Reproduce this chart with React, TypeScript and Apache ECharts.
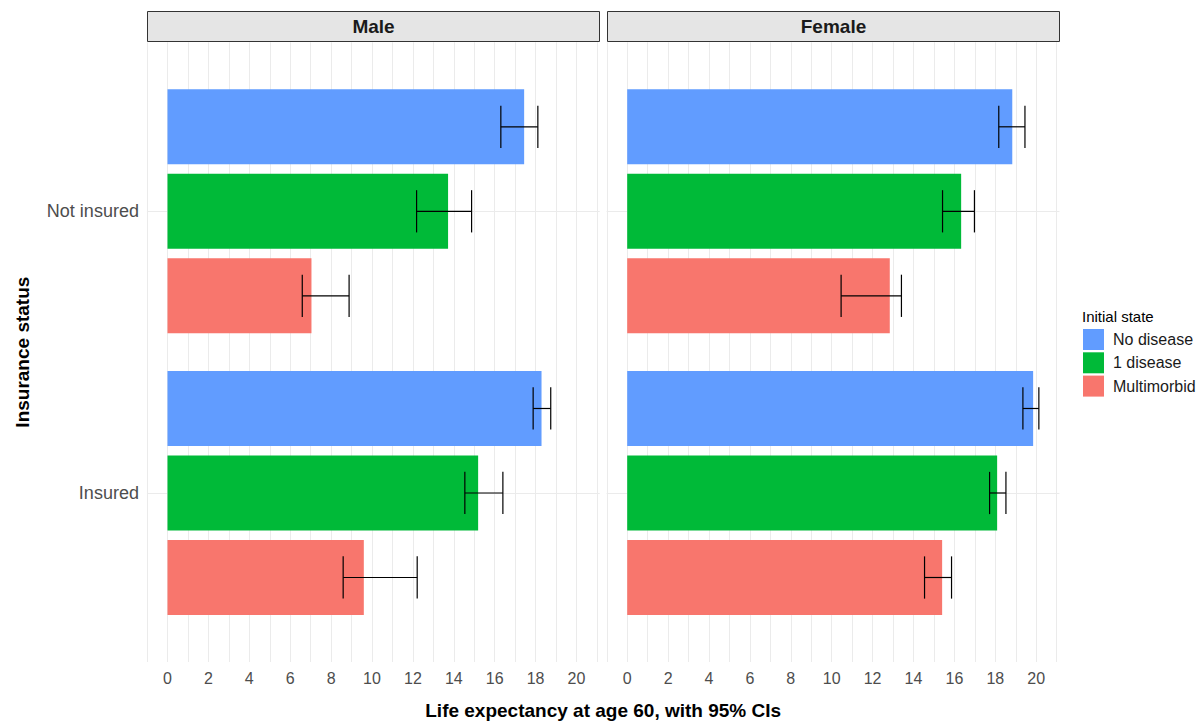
import React, { useEffect, useRef } from 'react';
import * as echarts from 'echarts';

// ---------- data ----------
const categories = ['Not insured', 'Insured'];
const states = ['No disease', '1 disease', 'Multimorbid'];
const stateColors = ['#619CFF', '#00BA38', '#F8766D'];
const facets = ['Male', 'Female'];

// Male: [Not insured, Insured]
const maleNoDisease = [17.44, 18.29];
const maleNoDiseaseLo = [16.3, 17.88];
const maleNoDiseaseHi = [18.11, 18.74];
const maleOneDisease = [13.72, 15.19];
const maleOneDiseaseLo = [12.18, 14.54];
const maleOneDiseaseHi = [14.87, 16.4];
const maleMulti = [7.04, 9.6];
const maleMultiLo = [6.59, 8.59];
const maleMultiHi = [8.88, 12.21];

// Female: [Not insured, Insured]
const femaleNoDisease = [18.83, 19.85];
const femaleNoDiseaseLo = [18.17, 19.35];
const femaleNoDiseaseHi = [19.45, 20.13];
const femaleOneDisease = [16.33, 18.09];
const femaleOneDiseaseLo = [15.42, 17.72];
const femaleOneDiseaseHi = [16.98, 18.52];
const femaleMulti = [12.84, 15.4];
const femaleMultiLo = [10.46, 14.54];
const femaleMultiHi = [13.41, 15.86];

const xTickLabels = [0, 2, 4, 6, 8, 10, 12, 14, 16, 18, 20];
const xGridValues = [-1, 0, 1, 2, 3, 4, 5, 6, 7, 8, 9, 10, 11, 12, 13, 14, 15, 16, 17, 18, 19, 20, 21];

const estimates = [
  [maleNoDisease, maleOneDisease, maleMulti],
  [femaleNoDisease, femaleOneDisease, femaleMulti],
];
const lowers = [
  [maleNoDiseaseLo, maleOneDiseaseLo, maleMultiLo],
  [femaleNoDiseaseLo, femaleOneDiseaseLo, femaleMultiLo],
];
const uppers = [
  [maleNoDiseaseHi, maleOneDiseaseHi, maleMultiHi],
  [femaleNoDiseaseHi, femaleOneDiseaseHi, femaleMultiHi],
];

// ---------- layout ----------
const FONT = '"Liberation Sans", Arial, sans-serif';
const PPU = 20.45; // px per unit on x
const ZERO_PX = [167.5, 627.2];
const PANEL_TOP = 42.3;
const PANEL_BOTTOM = 662;
const BAR_H = 0.8 / 3;
const DODGE = 0.3;
const CAP = 0.15;

const allHi = ([] as number[]).concat(...uppers.map((f) => ([] as number[]).concat(...f)));
const dataMax = Math.max(...allHi);
const X_MIN = -0.05 * dataMax;
const X_MAX = dataMax * 1.05;

function barRender(offset: number) {
  return (params: any, api: any) => {
    const v = api.value(0);
    const c = api.value(1) + offset;
    const a = api.coord([0, c - BAR_H / 2]);
    const b = api.coord([v, c + BAR_H / 2]);
    return {
      type: 'rect',
      shape: {
        x: Math.min(a[0], b[0]),
        y: Math.min(a[1], b[1]),
        width: Math.abs(b[0] - a[0]),
        height: Math.abs(b[1] - a[1]),
      },
      style: { fill: api.visual('color') },
    };
  };
}

function errRender(offset: number) {
  return (params: any, api: any) => {
    const lo = api.value(0);
    const hi = api.value(1);
    const c = api.value(2) + offset;
    const pl = api.coord([lo, c]);
    const ph = api.coord([hi, c]);
    const t = api.coord([lo, c - CAP / 2]);
    const b = api.coord([lo, c + CAP / 2]);
    const hh = Math.abs(b[1] - t[1]) / 2;
    const st = { stroke: '#000000', lineWidth: 1.2 };
    return {
      type: 'group',
      children: [
        { type: 'line', shape: { x1: pl[0], y1: pl[1], x2: ph[0], y2: ph[1] }, style: st },
        { type: 'line', shape: { x1: pl[0], y1: pl[1] - hh, x2: pl[0], y2: pl[1] + hh }, style: st },
        { type: 'line', shape: { x1: ph[0], y1: ph[1] - hh, x2: ph[0], y2: ph[1] + hh }, style: st },
      ],
    };
  };
}

export default function App() {
  const ref = useRef<HTMLDivElement>(null);

  useEffect(() => {
    if (!ref.current) return;
    const chart = echarts.init(ref.current, undefined, { renderer: 'svg' });

    const panelWidth = (X_MAX - X_MIN) * PPU;
    const panelLefts = ZERO_PX.map((z) => z + X_MIN * PPU);
    const catPos = categories.map((_, i) => i + 1);

    const grids = facets.map((_, f) => ({
      left: panelLefts[f],
      top: PANEL_TOP,
      width: panelWidth,
      height: PANEL_BOTTOM - PANEL_TOP,
      containLabel: false,
    }));

    const xAxes = facets.map((_, f) => ({
      type: 'value',
      gridIndex: f,
      min: X_MIN,
      max: X_MAX,
      axisLine: { show: false },
      axisTick: { show: false, customValues: xGridValues },
      axisLabel: {
        customValues: xTickLabels,
        fontSize: 16,
        color: '#4D4D4D',
        fontFamily: FONT,
        margin: 8,
      },
      splitLine: { show: true, lineStyle: { color: '#EBEBEB', width: 1 } },
    }));

    const yAxes = facets.map((_, f) => ({
      type: 'value',
      gridIndex: f,
      min: 0.4,
      max: 2.6,
      inverse: true,
      axisLine: { show: false },
      axisTick: { show: false, customValues: catPos },
      axisLabel: {
        show: f === 0,
        customValues: catPos,
        formatter: (v: number) => categories[Math.round(v) - 1] ?? '',
        fontSize: 18,
        color: '#4D4D4D',
        fontFamily: FONT,
        margin: 8,
      },
      splitLine: { show: true, lineStyle: { color: '#EBEBEB', width: 1 } },
    }));

    const series: any[] = [];
    facets.forEach((_, f) => {
      states.forEach((name, s) => {
        const offset = (s - 1) * DODGE;
        series.push({
          type: 'custom',
          name,
          xAxisIndex: f,
          yAxisIndex: f,
          itemStyle: { color: stateColors[s] },
          renderItem: barRender(offset),
          encode: { x: 0, y: 1 },
          data: categories.map((_, c) => [estimates[f][s][c], catPos[c]]),
          silent: true,
          z: 2,
        });
      });
      states.forEach((name, s) => {
        const offset = (s - 1) * DODGE;
        series.push({
          type: 'custom',
          name: name + ' CI',
          xAxisIndex: f,
          yAxisIndex: f,
          itemStyle: { color: '#000' },
          renderItem: errRender(offset),
          encode: { x: [0, 1], y: 2 },
          data: categories.map((_, c) => [lowers[f][s][c], uppers[f][s][c], catPos[c]]),
          silent: true,
          z: 3,
        });
      });
    });

    const graphics: any[] = [];
    facets.forEach((label, f) => {
      const l = Math.round(panelLefts[f]) + 0.5;
      const w = Math.round(panelWidth) - 1;
      graphics.push({
        type: 'rect',
        shape: { x: l, y: 11.5, width: w, height: 30 },
        style: { fill: '#E5E5E5', stroke: '#333333', lineWidth: 1 },
        silent: true,
      });
      graphics.push({
        type: 'text',
        x: l + w / 2,
        y: 26.5,
        style: {
          text: label,
          fontSize: 19,
          fontWeight: 'bold',
          fontFamily: FONT,
          fill: '#1A1A1A',
          align: 'center',
          verticalAlign: 'middle',
        },
        silent: true,
      });
    });
    graphics.push({
      type: 'text',
      x: (panelLefts[0] + panelLefts[1] + panelWidth) / 2,
      y: 710,
      style: {
        text: 'Life expectancy at age 60, with 95% CIs',
        fontSize: 19,
        fontWeight: 'bold',
        fontFamily: FONT,
        fill: '#000000',
        align: 'center',
        verticalAlign: 'middle',
      },
      silent: true,
    });
    graphics.push({
      type: 'text',
      x: 22,
      y: (PANEL_TOP + PANEL_BOTTOM) / 2,
      rotation: Math.PI / 2,
      style: {
        text: 'Insurance status',
        fontSize: 19,
        fontWeight: 'bold',
        fontFamily: FONT,
        fill: '#000000',
        align: 'center',
        verticalAlign: 'middle',
      },
      silent: true,
    });
    graphics.push({
      type: 'text',
      x: 1082,
      y: 316,
      style: {
        text: 'Initial state',
        fontSize: 15,
        fontFamily: FONT,
        fill: '#000000',
        align: 'left',
        verticalAlign: 'middle',
      },
      silent: true,
    });

    chart.setOption({
      animation: false,
      backgroundColor: '#FFFFFF',
      grid: grids,
      xAxis: xAxes,
      yAxis: yAxes,
      series,
      legend: {
        data: states.map((n) => ({ name: n, icon: 'rect' })),
        orient: 'vertical',
        left: 1083,
        top: 329,
        padding: 0,
        itemWidth: 21,
        itemHeight: 21,
        itemGap: 2.3,
        selectedMode: false,
        textStyle: { fontSize: 16, color: '#1A1A1A', fontFamily: FONT, padding: [0, 0, 0, 4] },
      },
      graphic: graphics,
    });

    return () => chart.dispose();
  }, []);

  return (
    <div
      ref={ref}
      style={{ position: 'fixed', left: 0, top: 0, width: 1201, height: 722, background: '#fff' }}
    />
  );
}
